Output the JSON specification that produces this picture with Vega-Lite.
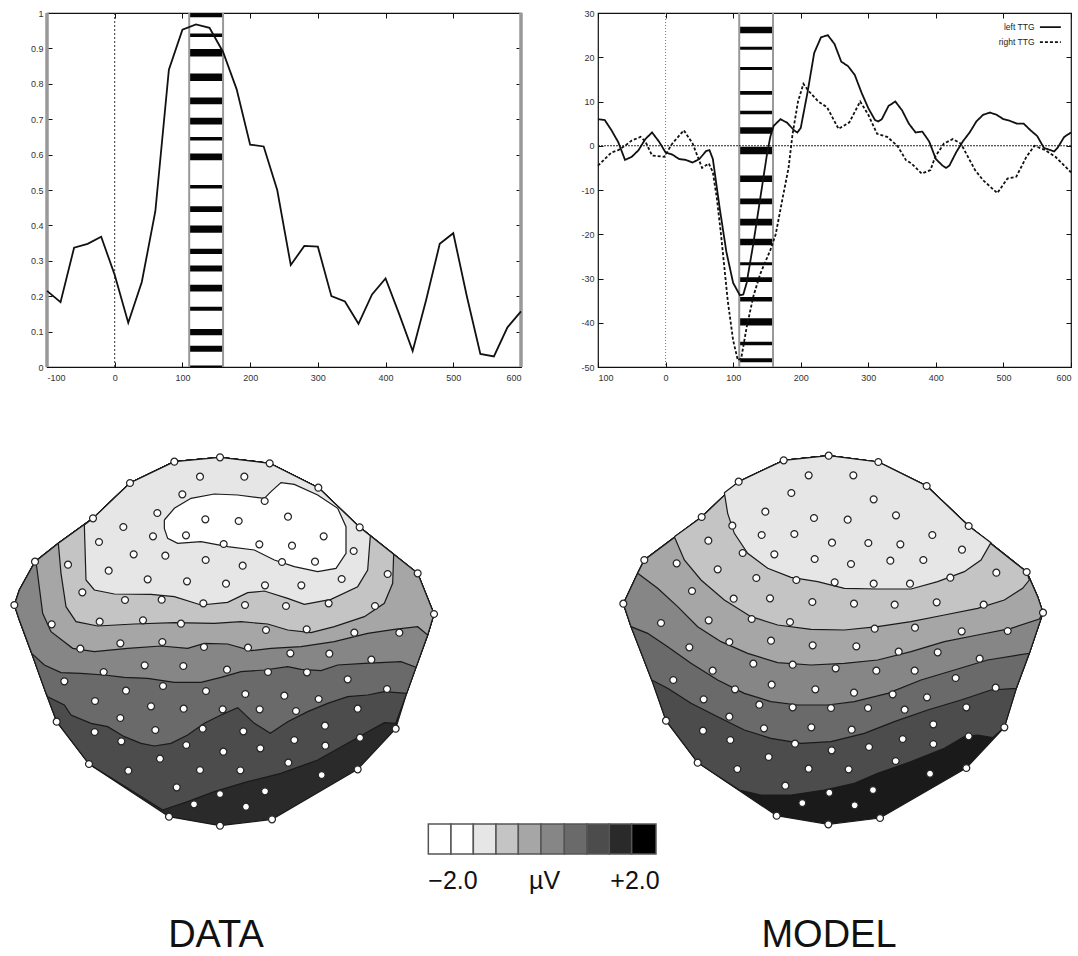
{"$schema":"https://vega.github.io/schema/vega-lite/v6.json","background":"white","padding":{"left":0,"top":8,"right":0,"bottom":0},"spacing":7,"config":{"font":"Liberation Sans","axis":{"grid":false,"domain":false,"title":null,"tickColor":"#111","tickWidth":1,"labelFont":"Liberation Sans","labelFontSize":9,"labelColor":"#333"},"view":{"stroke":"#111","strokeWidth":1.2}},
"datasets":{
"r1":[{"t":-100,"r":0.215},{"t":-80,"r":0.183},{"t":-60,"r":0.337},{"t":-40,"r":0.348},{"t":-20,"r":0.368},{"t":0,"r":0.26},{"t":20,"r":0.125},{"t":40,"r":0.24},{"t":60,"r":0.44},{"t":80,"r":0.84},{"t":100,"r":0.953},{"t":120,"r":0.968},{"t":140,"r":0.958},{"t":160,"r":0.89},{"t":180,"r":0.785},{"t":200,"r":0.628},{"t":220,"r":0.623},{"t":240,"r":0.5},{"t":260,"r":0.288},{"t":280,"r":0.342},{"t":300,"r":0.34},{"t":320,"r":0.2},{"t":340,"r":0.185},{"t":360,"r":0.122},{"t":380,"r":0.205},{"t":400,"r":0.25},{"t":420,"r":0.15},{"t":440,"r":0.045},{"t":460,"r":0.19},{"t":480,"r":0.348},{"t":500,"r":0.378},{"t":520,"r":0.2},{"t":540,"r":0.037},{"t":560,"r":0.03},{"t":580,"r":0.112},{"t":600,"r":0.157}],
"b1":[{"a":110,"b":160,"lo":0.988,"hi":0.999},{"a":110,"b":160,"lo":0.932,"hi":0.942},{"a":110,"b":160,"lo":0.877,"hi":0.898},{"a":110,"b":160,"lo":0.808,"hi":0.829},{"a":110,"b":160,"lo":0.742,"hi":0.761},{"a":110,"b":160,"lo":0.685,"hi":0.704},{"a":110,"b":160,"lo":0.64,"hi":0.65},{"a":110,"b":160,"lo":0.584,"hi":0.603},{"a":110,"b":160,"lo":0.504,"hi":0.514},{"a":110,"b":160,"lo":0.438,"hi":0.454},{"a":110,"b":160,"lo":0.379,"hi":0.4},{"a":110,"b":160,"lo":0.319,"hi":0.334},{"a":110,"b":160,"lo":0.27,"hi":0.287},{"a":110,"b":160,"lo":0.213,"hi":0.232},{"a":110,"b":160,"lo":0.159,"hi":0.17},{"a":110,"b":160,"lo":0.09,"hi":0.107},{"a":110,"b":160,"lo":0.043,"hi":0.06},{"a":110,"b":160,"lo":0,"hi":0.004}],
"b2":[{"a":109,"b":159,"lo":25.4,"hi":26.9},{"a":109,"b":159,"lo":21.7,"hi":22.4},{"a":109,"b":159,"lo":17.1,"hi":17.8},{"a":109,"b":159,"lo":11.5,"hi":12.4},{"a":109,"b":159,"lo":7.1,"hi":7.9},{"a":109,"b":159,"lo":2.7,"hi":4.2},{"a":109,"b":159,"lo":-1.9,"hi":-0.2},{"a":109,"b":159,"lo":-8.2,"hi":-6.7},{"a":109,"b":159,"lo":-13.2,"hi":-11.9},{"a":109,"b":159,"lo":-18,"hi":-16.5},{"a":109,"b":159,"lo":-22.5,"hi":-21},{"a":109,"b":159,"lo":-27,"hi":-26.3},{"a":109,"b":159,"lo":-30.8,"hi":-29.7},{"a":109,"b":159,"lo":-35.2,"hi":-34.2},{"a":109,"b":159,"lo":-40.6,"hi":-39},{"a":109,"b":159,"lo":-45.1,"hi":-44.3},{"a":109,"b":159,"lo":-48.9,"hi":-48}],
"s2":[{"series":"left TTG","t":-100,"v":6},{"series":"left TTG","t":-90,"v":5.8},{"series":"left TTG","t":-80,"v":3.5},{"series":"left TTG","t":-70,"v":0.8},{"series":"left TTG","t":-60,"v":-3.2},{"series":"left TTG","t":-50,"v":-2.5},{"series":"left TTG","t":-40,"v":-1},{"series":"left TTG","t":-30,"v":1.5},{"series":"left TTG","t":-20,"v":3},{"series":"left TTG","t":-10,"v":1},{"series":"left TTG","t":0,"v":-1.5},{"series":"left TTG","t":10,"v":-2},{"series":"left TTG","t":20,"v":-3},{"series":"left TTG","t":30,"v":-3.2},{"series":"left TTG","t":40,"v":-3.8},{"series":"left TTG","t":50,"v":-3},{"series":"left TTG","t":60,"v":-1.2},{"series":"left TTG","t":65,"v":-1},{"series":"left TTG","t":70,"v":-3},{"series":"left TTG","t":80,"v":-14},{"series":"left TTG","t":90,"v":-24},{"series":"left TTG","t":100,"v":-31},{"series":"left TTG","t":110,"v":-33.8},{"series":"left TTG","t":115,"v":-33.6},{"series":"left TTG","t":120,"v":-31},{"series":"left TTG","t":130,"v":-22},{"series":"left TTG","t":140,"v":-12},{"series":"left TTG","t":150,"v":-2},{"series":"left TTG","t":155,"v":2},{"series":"left TTG","t":160,"v":4.5},{"series":"left TTG","t":170,"v":6},{"series":"left TTG","t":180,"v":5.2},{"series":"left TTG","t":190,"v":3.5},{"series":"left TTG","t":195,"v":3},{"series":"left TTG","t":200,"v":4},{"series":"left TTG","t":210,"v":12},{"series":"left TTG","t":220,"v":21},{"series":"left TTG","t":230,"v":24.5},{"series":"left TTG","t":240,"v":25},{"series":"left TTG","t":250,"v":23},{"series":"left TTG","t":260,"v":19},{"series":"left TTG","t":270,"v":18},{"series":"left TTG","t":280,"v":16},{"series":"left TTG","t":290,"v":12},{"series":"left TTG","t":300,"v":8.5},{"series":"left TTG","t":310,"v":5.8},{"series":"left TTG","t":315,"v":5.5},{"series":"left TTG","t":320,"v":6},{"series":"left TTG","t":330,"v":9},{"series":"left TTG","t":340,"v":10},{"series":"left TTG","t":350,"v":8},{"series":"left TTG","t":360,"v":5},{"series":"left TTG","t":370,"v":3},{"series":"left TTG","t":380,"v":3.2},{"series":"left TTG","t":390,"v":1},{"series":"left TTG","t":400,"v":-3},{"series":"left TTG","t":410,"v":-4.5},{"series":"left TTG","t":415,"v":-5},{"series":"left TTG","t":420,"v":-4.5},{"series":"left TTG","t":430,"v":-1.5},{"series":"left TTG","t":440,"v":1},{"series":"left TTG","t":450,"v":3},{"series":"left TTG","t":460,"v":5.5},{"series":"left TTG","t":470,"v":7},{"series":"left TTG","t":480,"v":7.5},{"series":"left TTG","t":490,"v":7},{"series":"left TTG","t":500,"v":6},{"series":"left TTG","t":510,"v":5.6},{"series":"left TTG","t":520,"v":5},{"series":"left TTG","t":530,"v":5},{"series":"left TTG","t":540,"v":3.5},{"series":"left TTG","t":550,"v":2.2},{"series":"left TTG","t":560,"v":-0.5},{"series":"left TTG","t":570,"v":-1},{"series":"left TTG","t":575,"v":-1.3},{"series":"left TTG","t":580,"v":-0.5},{"series":"left TTG","t":590,"v":2},{"series":"left TTG","t":600,"v":3},
{"series":"right TTG","t":-100,"v":-4.5},{"series":"right TTG","t":-90,"v":-3},{"series":"right TTG","t":-80,"v":-1.5},{"series":"right TTG","t":-70,"v":-1},{"series":"right TTG","t":-60,"v":0},{"series":"right TTG","t":-50,"v":1.2},{"series":"right TTG","t":-37,"v":2},{"series":"right TTG","t":-30,"v":1},{"series":"right TTG","t":-20,"v":-2.2},{"series":"right TTG","t":-2,"v":-2.5},{"series":"right TTG","t":10,"v":0.5},{"series":"right TTG","t":27,"v":3.5},{"series":"right TTG","t":40,"v":0.5},{"series":"right TTG","t":54,"v":-5},{"series":"right TTG","t":64,"v":-4},{"series":"right TTG","t":70,"v":-6},{"series":"right TTG","t":76,"v":-12},{"series":"right TTG","t":82,"v":-20},{"series":"right TTG","t":92,"v":-35},{"series":"right TTG","t":100,"v":-44},{"series":"right TTG","t":107,"v":-48.5},{"series":"right TTG","t":112,"v":-48},{"series":"right TTG","t":120,"v":-41},{"series":"right TTG","t":130,"v":-34},{"series":"right TTG","t":140,"v":-29},{"series":"right TTG","t":155,"v":-23.6},{"series":"right TTG","t":163,"v":-20},{"series":"right TTG","t":173,"v":-12},{"series":"right TTG","t":182,"v":-5},{"series":"right TTG","t":188,"v":2.7},{"series":"right TTG","t":196,"v":10},{"series":"right TTG","t":204,"v":14},{"series":"right TTG","t":211,"v":12.5},{"series":"right TTG","t":226,"v":10},{"series":"right TTG","t":239,"v":8.7},{"series":"right TTG","t":256,"v":3.8},{"series":"right TTG","t":272,"v":5.3},{"series":"right TTG","t":288,"v":10},{"series":"right TTG","t":300,"v":7},{"series":"right TTG","t":313,"v":2.7},{"series":"right TTG","t":328,"v":2},{"series":"right TTG","t":343,"v":0},{"series":"right TTG","t":356,"v":-3.3},{"series":"right TTG","t":364,"v":-4},{"series":"right TTG","t":379,"v":-6.3},{"series":"right TTG","t":392,"v":-5.5},{"series":"right TTG","t":399,"v":-2.5},{"series":"right TTG","t":412,"v":0.5},{"series":"right TTG","t":425,"v":1.5},{"series":"right TTG","t":437,"v":0.5},{"series":"right TTG","t":458,"v":-5.5},{"series":"right TTG","t":470,"v":-7.8},{"series":"right TTG","t":491,"v":-10.7},{"series":"right TTG","t":506,"v":-7.4},{"series":"right TTG","t":519,"v":-7},{"series":"right TTG","t":534,"v":-2.5},{"series":"right TTG","t":546,"v":0},{"series":"right TTG","t":562,"v":-1},{"series":"right TTG","t":577,"v":-2.5},{"series":"right TTG","t":600,"v":-6}],
"key":[{"series":"left TTG","t":554,"v":26.8},{"series":"left TTG","t":585,"v":26.8},{"series":"right TTG","t":554,"v":23.4},{"series":"right TTG","t":585,"v":23.4}],
"keyText":[{"series":"left TTG","t":546,"v":26.8},{"series":"right TTG","t":546,"v":23.4}],
"polyD":[
{"p":"d0","l":9,"x":40,"y":495},{"p":"d0","l":9,"x":55,"y":450},{"p":"d0","l":9,"x":102,"y":365},{"p":"d0","l":9,"x":172,"y":310},{"p":"d0","l":9,"x":276,"y":235},{"p":"d0","l":9,"x":387,"y":129},{"p":"d0","l":9,"x":520,"y":65},{"p":"d0","l":9,"x":657,"y":52},{"p":"d0","l":9,"x":806,"y":70},{"p":"d0","l":9,"x":952,"y":143},{"p":"d0","l":9,"x":1076,"y":262},{"p":"d0","l":9,"x":1250,"y":400},{"p":"d0","l":9,"x":1299,"y":522},{"p":"d0","l":9,"x":1280,"y":585},{"p":"d0","l":9,"x":1245,"y":682},{"p":"d0","l":9,"x":1217,"y":760},{"p":"d0","l":9,"x":1184,"y":866},{"p":"d0","l":9,"x":1070,"y":988},{"p":"d0","l":9,"x":813,"y":1138},{"p":"d0","l":9,"x":657,"y":1157},{"p":"d0","l":9,"x":504,"y":1130},{"p":"d0","l":9,"x":264,"y":972},{"p":"d0","l":9,"x":167,"y":845},{"p":"d0","l":9,"x":135,"y":760},{"p":"d0","l":9,"x":92,"y":640},{"p":"d0","l":9,"x":55,"y":540},{"p":"d0","l":9,"x":40,"y":495},
{"p":"d1","l":8,"x":485,"y":1110},{"p":"d1","l":8,"x":264,"y":972},{"p":"d1","l":8,"x":167,"y":845},{"p":"d1","l":8,"x":135,"y":760},{"p":"d1","l":8,"x":92,"y":640},{"p":"d1","l":8,"x":55,"y":540},{"p":"d1","l":8,"x":40,"y":495},{"p":"d1","l":8,"x":55,"y":450},{"p":"d1","l":8,"x":102,"y":365},{"p":"d1","l":8,"x":172,"y":310},{"p":"d1","l":8,"x":276,"y":235},{"p":"d1","l":8,"x":387,"y":129},{"p":"d1","l":8,"x":520,"y":65},{"p":"d1","l":8,"x":657,"y":52},{"p":"d1","l":8,"x":806,"y":70},{"p":"d1","l":8,"x":952,"y":143},{"p":"d1","l":8,"x":1076,"y":262},{"p":"d1","l":8,"x":1250,"y":400},{"p":"d1","l":8,"x":1299,"y":522},{"p":"d1","l":8,"x":1280,"y":585},{"p":"d1","l":8,"x":1245,"y":682},{"p":"d1","l":8,"x":1217,"y":760},{"p":"d1","l":8,"x":1184,"y":850},{"p":"d1","l":8,"x":1150,"y":848},{"p":"d1","l":8,"x":1110,"y":870},{"p":"d1","l":8,"x":1040,"y":910},{"p":"d1","l":8,"x":950,"y":960},{"p":"d1","l":8,"x":840,"y":1000},{"p":"d1","l":8,"x":740,"y":1025},{"p":"d1","l":8,"x":640,"y":1055},{"p":"d1","l":8,"x":560,"y":1085},{"p":"d1","l":8,"x":485,"y":1110},
{"p":"d2","l":7,"x":140,"y":770},{"p":"d2","l":7,"x":135,"y":760},{"p":"d2","l":7,"x":92,"y":640},{"p":"d2","l":7,"x":55,"y":540},{"p":"d2","l":7,"x":40,"y":495},{"p":"d2","l":7,"x":55,"y":450},{"p":"d2","l":7,"x":102,"y":365},{"p":"d2","l":7,"x":172,"y":310},{"p":"d2","l":7,"x":276,"y":235},{"p":"d2","l":7,"x":387,"y":129},{"p":"d2","l":7,"x":520,"y":65},{"p":"d2","l":7,"x":657,"y":52},{"p":"d2","l":7,"x":806,"y":70},{"p":"d2","l":7,"x":952,"y":143},{"p":"d2","l":7,"x":1076,"y":262},{"p":"d2","l":7,"x":1250,"y":400},{"p":"d2","l":7,"x":1299,"y":522},{"p":"d2","l":7,"x":1280,"y":585},{"p":"d2","l":7,"x":1245,"y":682},{"p":"d2","l":7,"x":1217,"y":760},{"p":"d2","l":7,"x":1150,"y":755},{"p":"d2","l":7,"x":1100,"y":765},{"p":"d2","l":7,"x":1040,"y":770},{"p":"d2","l":7,"x":980,"y":790},{"p":"d2","l":7,"x":920,"y":815},{"p":"d2","l":7,"x":860,"y":845},{"p":"d2","l":7,"x":808,"y":880},{"p":"d2","l":7,"x":760,"y":850},{"p":"d2","l":7,"x":710,"y":803},{"p":"d2","l":7,"x":660,"y":825},{"p":"d2","l":7,"x":610,"y":850},{"p":"d2","l":7,"x":560,"y":885},{"p":"d2","l":7,"x":510,"y":910},{"p":"d2","l":7,"x":460,"y":918},{"p":"d2","l":7,"x":420,"y":910},{"p":"d2","l":7,"x":370,"y":890},{"p":"d2","l":7,"x":320,"y":860},{"p":"d2","l":7,"x":270,"y":850},{"p":"d2","l":7,"x":210,"y":825},{"p":"d2","l":7,"x":190,"y":795},{"p":"d2","l":7,"x":140,"y":770},
{"p":"d3","l":6,"x":92,"y":640},{"p":"d3","l":6,"x":55,"y":540},{"p":"d3","l":6,"x":40,"y":495},{"p":"d3","l":6,"x":55,"y":450},{"p":"d3","l":6,"x":102,"y":365},{"p":"d3","l":6,"x":172,"y":310},{"p":"d3","l":6,"x":276,"y":235},{"p":"d3","l":6,"x":387,"y":129},{"p":"d3","l":6,"x":520,"y":65},{"p":"d3","l":6,"x":657,"y":52},{"p":"d3","l":6,"x":806,"y":70},{"p":"d3","l":6,"x":952,"y":143},{"p":"d3","l":6,"x":1076,"y":262},{"p":"d3","l":6,"x":1250,"y":400},{"p":"d3","l":6,"x":1299,"y":522},{"p":"d3","l":6,"x":1280,"y":585},{"p":"d3","l":6,"x":1245,"y":682},{"p":"d3","l":6,"x":1200,"y":665},{"p":"d3","l":6,"x":1090,"y":670},{"p":"d3","l":6,"x":1010,"y":675},{"p":"d3","l":6,"x":960,"y":692},{"p":"d3","l":6,"x":900,"y":688},{"p":"d3","l":6,"x":860,"y":680},{"p":"d3","l":6,"x":790,"y":690},{"p":"d3","l":6,"x":720,"y":695},{"p":"d3","l":6,"x":660,"y":712},{"p":"d3","l":6,"x":600,"y":727},{"p":"d3","l":6,"x":520,"y":727},{"p":"d3","l":6,"x":440,"y":715},{"p":"d3","l":6,"x":370,"y":712},{"p":"d3","l":6,"x":310,"y":705},{"p":"d3","l":6,"x":240,"y":700},{"p":"d3","l":6,"x":180,"y":698},{"p":"d3","l":6,"x":130,"y":675},{"p":"d3","l":6,"x":92,"y":640},
{"p":"d4","l":5,"x":102,"y":365},{"p":"d4","l":5,"x":172,"y":310},{"p":"d4","l":5,"x":276,"y":235},{"p":"d4","l":5,"x":387,"y":129},{"p":"d4","l":5,"x":520,"y":65},{"p":"d4","l":5,"x":657,"y":52},{"p":"d4","l":5,"x":806,"y":70},{"p":"d4","l":5,"x":952,"y":143},{"p":"d4","l":5,"x":1076,"y":262},{"p":"d4","l":5,"x":1250,"y":400},{"p":"d4","l":5,"x":1299,"y":522},{"p":"d4","l":5,"x":1280,"y":585},{"p":"d4","l":5,"x":1250,"y":560},{"p":"d4","l":5,"x":1180,"y":568},{"p":"d4","l":5,"x":1100,"y":580},{"p":"d4","l":5,"x":1000,"y":605},{"p":"d4","l":5,"x":900,"y":620},{"p":"d4","l":5,"x":810,"y":625},{"p":"d4","l":5,"x":750,"y":632},{"p":"d4","l":5,"x":680,"y":612},{"p":"d4","l":5,"x":610,"y":610},{"p":"d4","l":5,"x":560,"y":625},{"p":"d4","l":5,"x":480,"y":618},{"p":"d4","l":5,"x":380,"y":625},{"p":"d4","l":5,"x":280,"y":635},{"p":"d4","l":5,"x":215,"y":625},{"p":"d4","l":5,"x":150,"y":575},{"p":"d4","l":5,"x":125,"y":520},{"p":"d4","l":5,"x":107,"y":380},{"p":"d4","l":5,"x":102,"y":365},
{"p":"d5","l":4,"x":172,"y":310},{"p":"d5","l":4,"x":276,"y":235},{"p":"d5","l":4,"x":387,"y":129},{"p":"d5","l":4,"x":520,"y":65},{"p":"d5","l":4,"x":657,"y":52},{"p":"d5","l":4,"x":806,"y":70},{"p":"d5","l":4,"x":952,"y":143},{"p":"d5","l":4,"x":1076,"y":262},{"p":"d5","l":4,"x":1178,"y":343},{"p":"d5","l":4,"x":1175,"y":430},{"p":"d5","l":4,"x":1150,"y":490},{"p":"d5","l":4,"x":1090,"y":530},{"p":"d5","l":4,"x":1000,"y":560},{"p":"d5","l":4,"x":930,"y":578},{"p":"d5","l":4,"x":860,"y":570},{"p":"d5","l":4,"x":800,"y":552},{"p":"d5","l":4,"x":720,"y":545},{"p":"d5","l":4,"x":640,"y":550},{"p":"d5","l":4,"x":520,"y":548},{"p":"d5","l":4,"x":400,"y":552},{"p":"d5","l":4,"x":290,"y":558},{"p":"d5","l":4,"x":225,"y":545},{"p":"d5","l":4,"x":195,"y":500},{"p":"d5","l":4,"x":180,"y":400},{"p":"d5","l":4,"x":172,"y":310},
{"p":"d6","l":3,"x":250,"y":255},{"p":"d6","l":3,"x":276,"y":235},{"p":"d6","l":3,"x":387,"y":129},{"p":"d6","l":3,"x":520,"y":65},{"p":"d6","l":3,"x":657,"y":52},{"p":"d6","l":3,"x":806,"y":70},{"p":"d6","l":3,"x":952,"y":143},{"p":"d6","l":3,"x":1076,"y":262},{"p":"d6","l":3,"x":1108,"y":287},{"p":"d6","l":3,"x":1100,"y":390},{"p":"d6","l":3,"x":1070,"y":440},{"p":"d6","l":3,"x":990,"y":478},{"p":"d6","l":3,"x":910,"y":493},{"p":"d6","l":3,"x":860,"y":475},{"p":"d6","l":3,"x":790,"y":453},{"p":"d6","l":3,"x":740,"y":458},{"p":"d6","l":3,"x":680,"y":487},{"p":"d6","l":3,"x":600,"y":495},{"p":"d6","l":3,"x":520,"y":470},{"p":"d6","l":3,"x":450,"y":463},{"p":"d6","l":3,"x":340,"y":462},{"p":"d6","l":3,"x":280,"y":450},{"p":"d6","l":3,"x":255,"y":420},{"p":"d6","l":3,"x":250,"y":255},
{"p":"d7","l":2,"x":490,"y":240},{"p":"d7","l":2,"x":520,"y":205},{"p":"d7","l":2,"x":570,"y":175},{"p":"d7","l":2,"x":640,"y":162},{"p":"d7","l":2,"x":710,"y":165},{"p":"d7","l":2,"x":790,"y":175},{"p":"d7","l":2,"x":810,"y":155},{"p":"d7","l":2,"x":840,"y":128},{"p":"d7","l":2,"x":880,"y":133},{"p":"d7","l":2,"x":950,"y":165},{"p":"d7","l":2,"x":1010,"y":205},{"p":"d7","l":2,"x":1035,"y":260},{"p":"d7","l":2,"x":1035,"y":340},{"p":"d7","l":2,"x":1005,"y":385},{"p":"d7","l":2,"x":950,"y":395},{"p":"d7","l":2,"x":880,"y":380},{"p":"d7","l":2,"x":820,"y":360},{"p":"d7","l":2,"x":760,"y":330},{"p":"d7","l":2,"x":680,"y":320},{"p":"d7","l":2,"x":600,"y":305},{"p":"d7","l":2,"x":530,"y":310},{"p":"d7","l":2,"x":500,"y":295},{"p":"d7","l":2,"x":490,"y":265},{"p":"d7","l":2,"x":490,"y":240}],
"polyM":[
{"p":"m0","l":9.5,"x":37,"y":491},{"p":"m0","l":9.5,"x":80,"y":400},{"p":"m0","l":9.5,"x":100,"y":360},{"p":"m0","l":9.5,"x":272,"y":231},{"p":"m0","l":9.5,"x":383,"y":125},{"p":"m0","l":9.5,"x":518,"y":61},{"p":"m0","l":9.5,"x":653,"y":47},{"p":"m0","l":9.5,"x":802,"y":66},{"p":"m0","l":9.5,"x":947,"y":138},{"p":"m0","l":9.5,"x":1073,"y":258},{"p":"m0","l":9.5,"x":1247,"y":396},{"p":"m0","l":9.5,"x":1280,"y":470},{"p":"m0","l":9.5,"x":1296,"y":518},{"p":"m0","l":9.5,"x":1255,"y":640},{"p":"m0","l":9.5,"x":1216,"y":745},{"p":"m0","l":9.5,"x":1180,"y":862},{"p":"m0","l":9.5,"x":1066,"y":984},{"p":"m0","l":9.5,"x":807,"y":1134},{"p":"m0","l":9.5,"x":652,"y":1153},{"p":"m0","l":9.5,"x":497,"y":1127},{"p":"m0","l":9.5,"x":260,"y":968},{"p":"m0","l":9.5,"x":165,"y":842},{"p":"m0","l":9.5,"x":125,"y":725},{"p":"m0","l":9.5,"x":60,"y":560},{"p":"m0","l":9.5,"x":37,"y":491},
{"p":"m6","l":8,"x":385,"y":1050},{"p":"m6","l":8,"x":260,"y":968},{"p":"m6","l":8,"x":165,"y":842},{"p":"m6","l":8,"x":122,"y":720},{"p":"m6","l":8,"x":60,"y":560},{"p":"m6","l":8,"x":37,"y":491},{"p":"m6","l":8,"x":80,"y":400},{"p":"m6","l":8,"x":100,"y":360},{"p":"m6","l":8,"x":272,"y":231},{"p":"m6","l":8,"x":383,"y":125},{"p":"m6","l":8,"x":518,"y":61},{"p":"m6","l":8,"x":653,"y":47},{"p":"m6","l":8,"x":802,"y":66},{"p":"m6","l":8,"x":947,"y":138},{"p":"m6","l":8,"x":1073,"y":258},{"p":"m6","l":8,"x":1247,"y":396},{"p":"m6","l":8,"x":1280,"y":470},{"p":"m6","l":8,"x":1296,"y":518},{"p":"m6","l":8,"x":1255,"y":640},{"p":"m6","l":8,"x":1216,"y":745},{"p":"m6","l":8,"x":1180,"y":862},{"p":"m6","l":8,"x":1145,"y":893},{"p":"m6","l":8,"x":1100,"y":885},{"p":"m6","l":8,"x":1060,"y":890},{"p":"m6","l":8,"x":1000,"y":925},{"p":"m6","l":8,"x":900,"y":965},{"p":"m6","l":8,"x":800,"y":1000},{"p":"m6","l":8,"x":730,"y":1030},{"p":"m6","l":8,"x":640,"y":1050},{"p":"m6","l":8,"x":540,"y":1065},{"p":"m6","l":8,"x":450,"y":1065},{"p":"m6","l":8,"x":385,"y":1050},
{"p":"m5","l":7,"x":122,"y":720},{"p":"m5","l":7,"x":60,"y":560},{"p":"m5","l":7,"x":37,"y":491},{"p":"m5","l":7,"x":80,"y":400},{"p":"m5","l":7,"x":100,"y":360},{"p":"m5","l":7,"x":272,"y":231},{"p":"m5","l":7,"x":383,"y":125},{"p":"m5","l":7,"x":518,"y":61},{"p":"m5","l":7,"x":653,"y":47},{"p":"m5","l":7,"x":802,"y":66},{"p":"m5","l":7,"x":947,"y":138},{"p":"m5","l":7,"x":1073,"y":258},{"p":"m5","l":7,"x":1247,"y":396},{"p":"m5","l":7,"x":1280,"y":470},{"p":"m5","l":7,"x":1296,"y":518},{"p":"m5","l":7,"x":1255,"y":640},{"p":"m5","l":7,"x":1216,"y":745},{"p":"m5","l":7,"x":1140,"y":750},{"p":"m5","l":7,"x":1050,"y":780},{"p":"m5","l":7,"x":950,"y":810},{"p":"m5","l":7,"x":850,"y":845},{"p":"m5","l":7,"x":760,"y":880},{"p":"m5","l":7,"x":660,"y":905},{"p":"m5","l":7,"x":570,"y":910},{"p":"m5","l":7,"x":480,"y":895},{"p":"m5","l":7,"x":400,"y":870},{"p":"m5","l":7,"x":320,"y":830},{"p":"m5","l":7,"x":240,"y":790},{"p":"m5","l":7,"x":170,"y":745},{"p":"m5","l":7,"x":122,"y":720},
{"p":"m4","l":6,"x":60,"y":560},{"p":"m4","l":6,"x":37,"y":491},{"p":"m4","l":6,"x":80,"y":400},{"p":"m4","l":6,"x":100,"y":360},{"p":"m4","l":6,"x":272,"y":231},{"p":"m4","l":6,"x":383,"y":125},{"p":"m4","l":6,"x":518,"y":61},{"p":"m4","l":6,"x":653,"y":47},{"p":"m4","l":6,"x":802,"y":66},{"p":"m4","l":6,"x":947,"y":138},{"p":"m4","l":6,"x":1073,"y":258},{"p":"m4","l":6,"x":1247,"y":396},{"p":"m4","l":6,"x":1280,"y":470},{"p":"m4","l":6,"x":1296,"y":518},{"p":"m4","l":6,"x":1255,"y":640},{"p":"m4","l":6,"x":1130,"y":660},{"p":"m4","l":6,"x":1030,"y":690},{"p":"m4","l":6,"x":930,"y":720},{"p":"m4","l":6,"x":830,"y":760},{"p":"m4","l":6,"x":730,"y":785},{"p":"m4","l":6,"x":650,"y":795},{"p":"m4","l":6,"x":560,"y":795},{"p":"m4","l":6,"x":480,"y":785},{"p":"m4","l":6,"x":400,"y":760},{"p":"m4","l":6,"x":320,"y":720},{"p":"m4","l":6,"x":240,"y":670},{"p":"m4","l":6,"x":170,"y":620},{"p":"m4","l":6,"x":110,"y":580},{"p":"m4","l":6,"x":60,"y":560},
{"p":"m3","l":5,"x":80,"y":400},{"p":"m3","l":5,"x":100,"y":360},{"p":"m3","l":5,"x":272,"y":231},{"p":"m3","l":5,"x":383,"y":125},{"p":"m3","l":5,"x":518,"y":61},{"p":"m3","l":5,"x":653,"y":47},{"p":"m3","l":5,"x":802,"y":66},{"p":"m3","l":5,"x":947,"y":138},{"p":"m3","l":5,"x":1073,"y":258},{"p":"m3","l":5,"x":1247,"y":396},{"p":"m3","l":5,"x":1280,"y":470},{"p":"m3","l":5,"x":1296,"y":518},{"p":"m3","l":5,"x":1285,"y":537},{"p":"m3","l":5,"x":1200,"y":565},{"p":"m3","l":5,"x":1100,"y":585},{"p":"m3","l":5,"x":1000,"y":605},{"p":"m3","l":5,"x":900,"y":635},{"p":"m3","l":5,"x":800,"y":660},{"p":"m3","l":5,"x":700,"y":670},{"p":"m3","l":5,"x":600,"y":675},{"p":"m3","l":5,"x":500,"y":668},{"p":"m3","l":5,"x":410,"y":640},{"p":"m3","l":5,"x":330,"y":605},{"p":"m3","l":5,"x":260,"y":560},{"p":"m3","l":5,"x":200,"y":500},{"p":"m3","l":5,"x":140,"y":445},{"p":"m3","l":5,"x":80,"y":400},
{"p":"m2","l":4,"x":190,"y":290},{"p":"m2","l":4,"x":272,"y":231},{"p":"m2","l":4,"x":383,"y":125},{"p":"m2","l":4,"x":518,"y":61},{"p":"m2","l":4,"x":653,"y":47},{"p":"m2","l":4,"x":802,"y":66},{"p":"m2","l":4,"x":947,"y":138},{"p":"m2","l":4,"x":1073,"y":258},{"p":"m2","l":4,"x":1247,"y":396},{"p":"m2","l":4,"x":1255,"y":420},{"p":"m2","l":4,"x":1235,"y":445},{"p":"m2","l":4,"x":1180,"y":480},{"p":"m2","l":4,"x":1100,"y":505},{"p":"m2","l":4,"x":1000,"y":525},{"p":"m2","l":4,"x":900,"y":545},{"p":"m2","l":4,"x":800,"y":560},{"p":"m2","l":4,"x":700,"y":570},{"p":"m2","l":4,"x":600,"y":568},{"p":"m2","l":4,"x":500,"y":555},{"p":"m2","l":4,"x":420,"y":530},{"p":"m2","l":4,"x":340,"y":480},{"p":"m2","l":4,"x":270,"y":420},{"p":"m2","l":4,"x":220,"y":360},{"p":"m2","l":4,"x":190,"y":290},
{"p":"m1","l":3,"x":340,"y":158},{"p":"m1","l":3,"x":383,"y":125},{"p":"m1","l":3,"x":518,"y":61},{"p":"m1","l":3,"x":653,"y":47},{"p":"m1","l":3,"x":802,"y":66},{"p":"m1","l":3,"x":947,"y":138},{"p":"m1","l":3,"x":1073,"y":258},{"p":"m1","l":3,"x":1140,"y":308},{"p":"m1","l":3,"x":1110,"y":360},{"p":"m1","l":3,"x":1060,"y":395},{"p":"m1","l":3,"x":980,"y":425},{"p":"m1","l":3,"x":900,"y":447},{"p":"m1","l":3,"x":800,"y":447},{"p":"m1","l":3,"x":700,"y":445},{"p":"m1","l":3,"x":620,"y":425},{"p":"m1","l":3,"x":540,"y":412},{"p":"m1","l":3,"x":470,"y":385},{"p":"m1","l":3,"x":410,"y":340},{"p":"m1","l":3,"x":370,"y":280},{"p":"m1","l":3,"x":350,"y":220},{"p":"m1","l":3,"x":340,"y":158}],
"elecD":[{"x":520,"y":65},{"x":657,"y":52},{"x":806,"y":70},{"x":952,"y":143},{"x":1076,"y":262},{"x":1250,"y":400},{"x":1299,"y":522},{"x":1184,"y":866},{"x":1070,"y":988},{"x":813,"y":1138},{"x":657,"y":1157},{"x":504,"y":1130},{"x":264,"y":972},{"x":167,"y":845},{"x":40,"y":495},{"x":102,"y":365},{"x":276,"y":235},{"x":387,"y":129},{"x":597,"y":110},{"x":730,"y":110},{"x":544,"y":163},{"x":791,"y":183},{"x":469,"y":219},{"x":613,"y":238},{"x":713,"y":243},{"x":861,"y":230},{"x":367,"y":261},{"x":456,"y":289},{"x":555,"y":286},{"x":968,"y":289},{"x":294,"y":306},{"x":668,"y":312},{"x":775,"y":313},{"x":873,"y":317},{"x":1058,"y":333},{"x":398,"y":343},{"x":493,"y":347},{"x":614,"y":360},{"x":725,"y":377},{"x":843,"y":366},{"x":942,"y":365},{"x":201,"y":374},{"x":323,"y":392},{"x":440,"y":418},{"x":558,"y":424},{"x":675,"y":431},{"x":792,"y":436},{"x":901,"y":436},{"x":1022,"y":417},{"x":1160,"y":402},{"x":244,"y":457},{"x":372,"y":480},{"x":482,"y":479},{"x":607,"y":490},{"x":732,"y":495},{"x":855,"y":498},{"x":983,"y":490},{"x":1122,"y":498},{"x":296,"y":545},{"x":426,"y":541},{"x":540,"y":551},{"x":795,"y":570},{"x":917,"y":568},{"x":1060,"y":578},{"x":1195,"y":578},{"x":152,"y":553},{"x":358,"y":610},{"x":484,"y":606},{"x":609,"y":621},{"x":741,"y":623},{"x":868,"y":640},{"x":985,"y":641},{"x":238,"y":626},{"x":1111,"y":659},{"x":431,"y":676},{"x":547,"y":678},{"x":678,"y":689},{"x":801,"y":696},{"x":918,"y":697},{"x":308,"y":696},{"x":1040,"y":718},{"x":190,"y":724},{"x":486,"y":738},{"x":375,"y":752},{"x":615,"y":753},{"x":733,"y":762},{"x":850,"y":767},{"x":953,"y":777},{"x":1158,"y":747},{"x":282,"y":783},{"x":450,"y":799},{"x":548,"y":806},{"x":665,"y":808},{"x":776,"y":808},{"x":885,"y":813},{"x":1070,"y":806},{"x":358,"y":834},{"x":463,"y":870},{"x":605,"y":866},{"x":727,"y":874},{"x":972,"y":857},{"x":281,"y":876},{"x":361,"y":904},{"x":556,"y":915},{"x":667,"y":935},{"x":778,"y":925},{"x":880,"y":900},{"x":973,"y":917},{"x":1077,"y":893},{"x":477,"y":956},{"x":862,"y":968},{"x":382,"y":992},{"x":597,"y":990},{"x":718,"y":991},{"x":962,"y":1005},{"x":527,"y":1042},{"x":657,"y":1062},{"x":792,"y":1054},{"x":579,"y":1093},{"x":735,"y":1100}],
"elecM":[{"x":518,"y":61},{"x":653,"y":47},{"x":802,"y":66},{"x":947,"y":138},{"x":1073,"y":258},{"x":1247,"y":396},{"x":1296,"y":518},{"x":1180,"y":862},{"x":1066,"y":984},{"x":807,"y":1134},{"x":652,"y":1153},{"x":497,"y":1127},{"x":260,"y":968},{"x":165,"y":842},{"x":37,"y":491},{"x":100,"y":360},{"x":272,"y":231},{"x":383,"y":125},{"x":593,"y":106},{"x":727,"y":106},{"x":541,"y":159},{"x":788,"y":178},{"x":463,"y":215},{"x":609,"y":234},{"x":710,"y":239},{"x":855,"y":226},{"x":364,"y":257},{"x":452,"y":285},{"x":550,"y":282},{"x":964,"y":285},{"x":292,"y":302},{"x":663,"y":308},{"x":772,"y":309},{"x":868,"y":313},{"x":1053,"y":329},{"x":395,"y":339},{"x":490,"y":343},{"x":611,"y":357},{"x":720,"y":372},{"x":838,"y":362},{"x":937,"y":360},{"x":197,"y":370},{"x":320,"y":388},{"x":436,"y":414},{"x":556,"y":420},{"x":671,"y":427},{"x":788,"y":431},{"x":897,"y":431},{"x":1018,"y":413},{"x":1156,"y":398},{"x":243,"y":453},{"x":368,"y":476},{"x":477,"y":475},{"x":604,"y":486},{"x":729,"y":491},{"x":851,"y":494},{"x":977,"y":487},{"x":1118,"y":494},{"x":293,"y":541},{"x":422,"y":537},{"x":537,"y":546},{"x":791,"y":566},{"x":912,"y":563},{"x":1052,"y":574},{"x":1190,"y":573},{"x":150,"y":549},{"x":355,"y":606},{"x":480,"y":602},{"x":605,"y":616},{"x":736,"y":619},{"x":863,"y":635},{"x":980,"y":637},{"x":235,"y":622},{"x":1106,"y":656},{"x":427,"y":671},{"x":545,"y":674},{"x":674,"y":685},{"x":796,"y":692},{"x":911,"y":692},{"x":305,"y":692},{"x":1034,"y":714},{"x":187,"y":720},{"x":482,"y":734},{"x":372,"y":748},{"x":613,"y":748},{"x":729,"y":758},{"x":845,"y":763},{"x":948,"y":772},{"x":1154,"y":743},{"x":278,"y":778},{"x":445,"y":794},{"x":545,"y":802},{"x":660,"y":804},{"x":771,"y":804},{"x":881,"y":809},{"x":1066,"y":802},{"x":355,"y":830},{"x":459,"y":865},{"x":601,"y":862},{"x":722,"y":869},{"x":967,"y":853},{"x":276,"y":872},{"x":358,"y":900},{"x":552,"y":911},{"x":662,"y":931},{"x":774,"y":921},{"x":875,"y":897},{"x":967,"y":912},{"x":1073,"y":889},{"x":473,"y":951},{"x":854,"y":963},{"x":379,"y":987},{"x":593,"y":986},{"x":713,"y":988},{"x":957,"y":1001},{"x":523,"y":1037},{"x":655,"y":1058},{"x":786,"y":1050},{"x":574,"y":1089},{"x":731,"y":1096}],
"swatch":[{"l":1,"x":1282,"x2":1350,"y":1152,"y2":1242},{"l":2,"x":1350,"x2":1417,"y":1152,"y2":1242},{"l":3,"x":1417,"x2":1485,"y":1152,"y2":1242},{"l":4,"x":1485,"x2":1552,"y":1152,"y2":1242},{"l":5,"x":1552,"x2":1620,"y":1152,"y2":1242},{"l":6,"x":1620,"x2":1690,"y":1152,"y2":1242},{"l":7,"x":1690,"x2":1758,"y":1152,"y2":1242},{"l":8,"x":1758,"x2":1825,"y":1152,"y2":1242},{"l":9,"x":1825,"x2":1892,"y":1152,"y2":1242},{"l":10,"x":1892,"x2":1965,"y":1152,"y2":1242}],
"swatchText":[{"x":1356,"y":1323,"label":"−2.0"},{"x":1631,"y":1323,"label":"µV"},{"x":1902,"y":1323,"label":"+2.0"}],
"mapText":[{"x":645,"y":1488,"label":"DATA"}],
"mapTextM":[{"x":654,"y":1488,"label":"MODEL"}]
},
"vconcat":[
{"hconcat":[
{"width":474,"height":354,"layer":[
{"data":{"name":"b1"},"mark":{"type":"rect","color":"#050505"},"encoding":{"x":{"field":"a","type":"quantitative","scale":{"domain":[-100,600],"nice":false},"axis":{"orient":"bottom","values":[-100,0,100,200,300,400,500,600],"tickSize":-5,"labelPadding":11,"labelExpr":"''+datum.value"}},"x2":{"field":"b"},"y":{"field":"lo","type":"quantitative","scale":{"domain":[0,1],"nice":false},"axis":{"orient":"left","minExtent":46,"values":[0,0.1,0.2,0.3,0.4,0.5,0.6,0.7,0.8,0.9,1],"tickSize":-5,"labelPadding":9,"labelExpr":"''+datum.value"}},"y2":{"field":"hi"}}},
{"data":{"values":[{"t":110},{"t":160}]},"mark":{"type":"rule","color":"#999","strokeWidth":2},"encoding":{"x":{"field":"t","type":"quantitative","axis":{"orient":"top","values":[-100,0,100,200,300,400,500,600],"tickSize":-5,"labels":false}}}},
{"data":{"values":[{"t":-100},{"t":600}]},"mark":{"type":"rule","color":"#999","strokeWidth":3.5},"encoding":{"x":{"field":"t","type":"quantitative","axis":null}}},
{"data":{"values":[{"t":0}]},"mark":{"type":"rule","color":"#333","strokeWidth":1,"strokeDash":[2,2]},"encoding":{"x":{"field":"t","type":"quantitative","axis":null}}},
{"data":{"name":"r1"},"mark":{"type":"line","color":"#111","strokeWidth":1.8},"encoding":{"x":{"field":"t","type":"quantitative","axis":null},"y":{"field":"r","type":"quantitative","axis":{"orient":"right","values":[0,0.1,0.2,0.3,0.4,0.5,0.6,0.7,0.8,0.9,1],"tickSize":-5,"labels":false}}}}
],"resolve":{"axis":{"x":"independent","y":"independent"}}},
{"width":473,"height":354,"layer":[
{"data":{"name":"b2"},"mark":{"type":"rect","color":"#050505"},"encoding":{"x":{"field":"a","type":"quantitative","scale":{"domain":[-100,600],"nice":false},"axis":{"orient":"bottom","values":[-100,0,100,200,300,400,500,600],"tickSize":-5,"labelPadding":11,"labelExpr":"datum.value==-100?'100':''+datum.value"}},"x2":{"field":"b"},"y":{"field":"lo","type":"quantitative","scale":{"domain":[-50,30],"nice":false},"axis":{"orient":"left","values":[-50,-40,-30,-20,-10,0,10,20,30],"tickSize":-5,"labelPadding":9,"labelExpr":"''+datum.value"}},"y2":{"field":"hi"}}},
{"data":{"values":[{"t":109},{"t":159}]},"mark":{"type":"rule","color":"#999","strokeWidth":2},"encoding":{"x":{"field":"t","type":"quantitative","axis":{"orient":"top","values":[-100,0,100,200,300,400,500,600],"tickSize":-5,"labels":false}}}},
{"data":{"values":[{"t":0}]},"mark":{"type":"rule","color":"#777","strokeWidth":1,"strokeDash":[1,2]},"encoding":{"x":{"field":"t","type":"quantitative","axis":null}}},
{"data":{"values":[{"v":0}]},"mark":{"type":"rule","color":"#222","strokeWidth":1,"strokeDash":[2,1]},"encoding":{"y":{"field":"v","type":"quantitative","axis":null}}},
{"data":{"name":"s2"},"mark":{"type":"line","color":"#111","strokeWidth":1.8},"encoding":{"x":{"field":"t","type":"quantitative","axis":null},"y":{"field":"v","type":"quantitative","axis":{"orient":"right","values":[-50,-40,-30,-20,-10,0,10,20,30],"tickSize":-5,"labels":false}},"strokeDash":{"field":"series","type":"nominal","scale":{"domain":["left TTG","right TTG"],"range":[[1,0],[3,2]]},"legend":null}}},
{"data":{"name":"key"},"mark":{"type":"line","color":"#111","strokeWidth":1.8},"encoding":{"x":{"field":"t","type":"quantitative","axis":null},"y":{"field":"v","type":"quantitative","axis":null},"strokeDash":{"field":"series","type":"nominal","legend":null}}},
{"data":{"name":"keyText"},"mark":{"type":"text","align":"right","baseline":"middle","fontSize":8.5,"color":"#222"},"encoding":{"x":{"field":"t","type":"quantitative","axis":null},"y":{"field":"v","type":"quantitative","axis":null},"text":{"field":"series"}}}
],"resolve":{"axis":{"x":"independent","y":"independent"}}}
],"spacing":77,"bounds":"flush"},
{"width":1032,"height":566,"view":{"stroke":null},"layer":[
{"layer":[
{"data":{"name":"polyD"},"mark":{"type":"line","stroke":"#1a1a1a","strokeWidth":1.2},"encoding":{"x":{"field":"x","type":"quantitative","sort":null,"scale":{"domain":[138,3234],"nice":false,"zero":false},"axis":null},"y":{"field":"y","type":"quantitative","sort":null,"scale":{"domain":[1548,-150],"nice":false,"zero":false},"axis":null},"order":{"value":null},"detail":{"field":"p"},"fill":{"field":"l","type":"ordinal","scale":{"domain":[1,2,3,4,5,6,7,8,9,9.5,10],"range":["#ffffff","#ffffff","#e6e6e6","#c4c4c4","#a6a6a6","#868686","#6a6a6a","#4c4c4c","#2a2a2a","#1a1a1a","#000000"]},"legend":null}}},
{"data":{"name":"elecD"},"mark":{"type":"point","filled":true,"fill":"white","stroke":"#222","strokeWidth":1.2,"size":48,"opacity":1},"encoding":{"x":{"field":"x","type":"quantitative","axis":null},"y":{"field":"y","type":"quantitative","axis":null}}},
{"data":{"name":"mapText"},"mark":{"type":"text","fontSize":38,"font":"Liberation Sans","color":"#111","baseline":"middle"},"encoding":{"x":{"field":"x","type":"quantitative","axis":null},"y":{"field":"y","type":"quantitative","axis":null},"text":{"field":"label"}}}
]},
{"layer":[
{"data":{"name":"polyM"},"mark":{"type":"line","stroke":"#1a1a1a","strokeWidth":1.2},"encoding":{"x":{"field":"x","type":"quantitative","sort":null,"scale":{"domain":[-1692,1404],"nice":false,"zero":false},"axis":null},"y":{"field":"y","type":"quantitative","sort":null,"axis":null},"order":{"value":null},"detail":{"field":"p"},"fill":{"field":"l","type":"ordinal","legend":null}}},
{"data":{"name":"elecM"},"mark":{"type":"point","filled":true,"fill":"white","stroke":"#222","strokeWidth":1.2,"size":48,"opacity":1},"encoding":{"x":{"field":"x","type":"quantitative","axis":null},"y":{"field":"y","type":"quantitative","axis":null}}},
{"data":{"name":"mapTextM"},"mark":{"type":"text","fontSize":38,"font":"Liberation Sans","color":"#111","baseline":"middle"},"encoding":{"x":{"field":"x","type":"quantitative","axis":null},"y":{"field":"y","type":"quantitative","axis":null},"text":{"field":"label"}}}
]},
{"layer":[
{"data":{"name":"swatch"},"mark":{"type":"rect","stroke":"#555","strokeWidth":1.5},"encoding":{"x":{"field":"x","type":"quantitative","scale":{"domain":[138,3234],"nice":false,"zero":false},"axis":null},"x2":{"field":"x2"},"y":{"field":"y","type":"quantitative","axis":null},"y2":{"field":"y2"},"fill":{"field":"l","type":"ordinal","legend":null}}},
{"data":{"name":"swatchText"},"mark":{"type":"text","fontSize":25,"font":"Liberation Sans","color":"#111","baseline":"middle"},"encoding":{"x":{"field":"x","type":"quantitative","axis":null},"y":{"field":"y","type":"quantitative","axis":null},"text":{"field":"label"}}}
]}
],"resolve":{"scale":{"x":"independent"}}}
]}
